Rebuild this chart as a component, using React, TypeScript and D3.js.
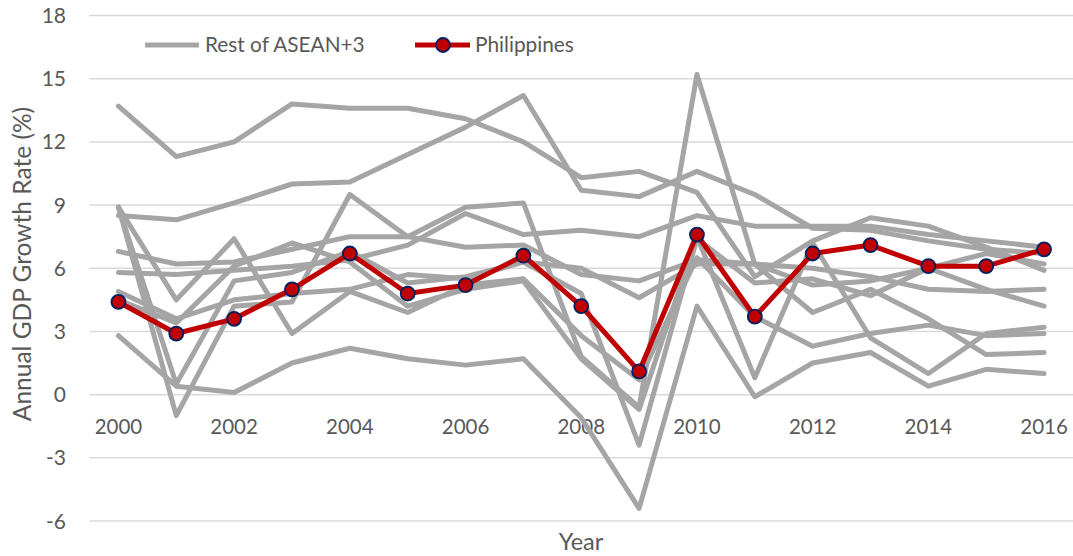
import React from "react";
import * as d3 from "d3";

const years = ["2000","2001","2002","2003","2004","2005","2006","2007","2008","2009","2010","2011","2012","2013","2014","2015","2016"];
const yTicks = [-6, -3, 0, 3, 6, 9, 12, 15, 18];
const xTickLabels = ["2000","2002","2004","2006","2008","2010","2012","2014","2016"];

const myanmar =   [13.7, 11.3, 12.0, 13.8, 13.6, 13.6, 13.1, 12.0, 10.3, 10.6, 9.6, 5.6, 7.3, 8.4, 8.0, 7.0, 5.9];
const china =     [8.5, 8.3, 9.1, 10.0, 10.1, 11.4, 12.7, 14.2, 9.7, 9.4, 10.6, 9.5, 7.9, 7.8, 7.3, 6.9, 6.7];
const singapore = [8.9, -1.0, 4.2, 4.4, 9.5, 7.5, 8.9, 9.1, 1.8, -0.6, 15.2, 6.2, 3.9, 5.0, 3.6, 1.9, 2.0];
const malaysia =  [8.9, 0.5, 5.4, 5.8, 6.8, 5.3, 5.6, 6.3, 4.8, -2.4, 7.4, 5.3, 5.5, 4.7, 6.0, 5.0, 4.2];
const thailand =  [4.5, 3.4, 6.1, 7.2, 6.3, 4.2, 5.0, 5.4, 1.7, -0.7, 7.5, 0.8, 7.2, 2.7, 1.0, 2.9, 3.2];
const japan =     [2.8, 0.4, 0.1, 1.5, 2.2, 1.7, 1.4, 1.7, -1.1, -5.4, 4.2, -0.1, 1.5, 2.0, 0.4, 1.2, 1.0];
const korea =     [8.9, 4.5, 7.4, 2.9, 4.9, 3.9, 5.2, 5.5, 2.8, 0.7, 6.5, 3.7, 2.3, 2.9, 3.3, 2.8, 2.9];
const indonesia = [4.9, 3.6, 4.5, 4.8, 5.0, 5.7, 5.5, 6.3, 6.0, 4.6, 6.2, 6.2, 6.0, 5.6, 5.0, 4.9, 5.0];
const vietnam =   [6.8, 6.2, 6.3, 6.9, 7.5, 7.5, 7.0, 7.1, 5.7, 5.4, 6.4, 6.2, 5.2, 5.4, 6.0, 6.7, 6.2];
const laos =      [5.8, 5.7, 5.9, 6.1, 6.4, 7.1, 8.6, 7.6, 7.8, 7.5, 8.5, 8.0, 8.0, 8.0, 7.6, 7.3, 7.0];
const philippines = [4.4, 2.9, 3.6, 5.0, 6.7, 4.8, 5.2, 6.6, 4.2, 1.1, 7.6, 3.7, 6.7, 7.1, 6.1, 6.1, 6.9];

const restSeries = [myanmar, china, singapore, malaysia, thailand, japan, korea, indonesia, vietnam, laos];

const W = 1073;
const H = 556;
const FONT = "Lato, 'Open Sans', sans-serif";
const TEXT = "#595959";
const GRAY = "#A5A5A5";
const RED = "#C00000";
const NAVY = "#002060";

export default function App() {
  const x = d3.scalePoint<string>().domain(years).range([89.5, 1073]).padding(0.5);
  const y = d3.scaleLinear().domain([-6, 18]).range([521, 15.5]);
  const line = d3
    .line<number>()
    .x((_, i) => x(years[i]) as number)
    .y((d) => y(d));
  const [gx0, gx1] = x.range();

  return (
    <svg
      width={W}
      height={H}
      style={{ position: "absolute", left: 0, top: 0, background: "#fff" }}
      fontFamily={FONT}
    >
      {yTicks.map((t) => (
        <g key={t}>
          <line x1={gx0} x2={gx1} y1={y(t)} y2={y(t)} stroke="#D9D9D9" strokeWidth={1.5} />
          <text x={66} y={y(t) + 7.5} textAnchor="end" fontSize={21} fill={TEXT}>
            {t}
          </text>
        </g>
      ))}
      {xTickLabels.map((yr) => (
        <text key={yr} x={x(yr)} y={y(0) + 39} textAnchor="middle" fontSize={20.5} fill={TEXT}>
          {yr}
        </text>
      ))}
      {restSeries.map((s, i) => (
        <path
          key={i}
          d={line(s) || ""}
          fill="none"
          stroke={GRAY}
          strokeWidth={5}
          strokeLinejoin="round"
          strokeLinecap="round"
        />
      ))}
      <path
        d={line(philippines) || ""}
        fill="none"
        stroke={RED}
        strokeWidth={5}
        strokeLinejoin="round"
        strokeLinecap="round"
      />
      {philippines.map((v, i) => (
        <circle key={i} cx={x(years[i])} cy={y(v)} r={7} fill={RED} stroke={NAVY} strokeWidth={1.8} />
      ))}
      <text
        transform={`translate(31, 264) rotate(-90)`}
        textAnchor="middle"
        fontSize={24.5}
        fill={TEXT}
      >
        Annual GDP Growth Rate (%)
      </text>
      <text x={581} y={550} textAnchor="middle" fontSize={23.5} fill={TEXT}>
        Year
      </text>
      <g>
        <line x1={145} x2={199} y1={45} y2={45} stroke={GRAY} strokeWidth={5} />
        <text x={205} y={52} fontSize={20.8} fill={TEXT}>Rest of ASEAN+3</text>
        <line x1={415} x2={470} y1={45} y2={45} stroke={RED} strokeWidth={5} />
        <circle cx={443} cy={45} r={7} fill={RED} stroke={NAVY} strokeWidth={1.8} />
        <text x={475} y={52} fontSize={20.8} fill={TEXT}>Philippines</text>
      </g>
    </svg>
  );
}
